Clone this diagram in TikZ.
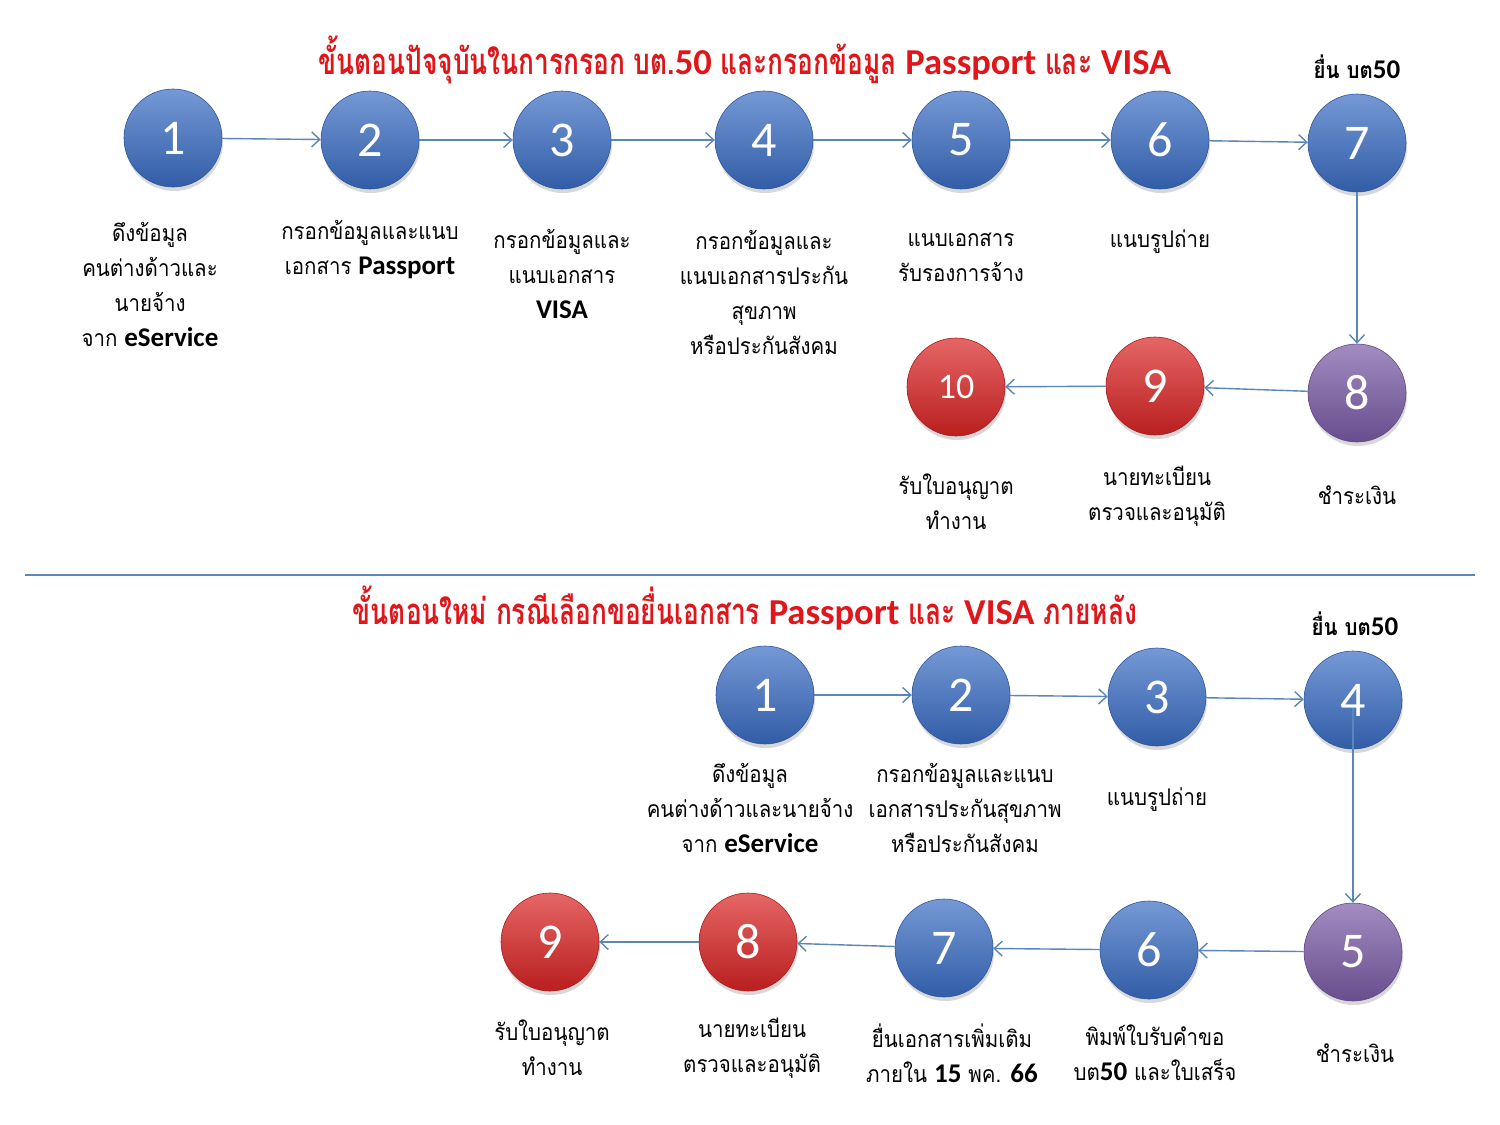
\documentclass[tikz,border=0pt]{standalone}
\usepackage{fontspec}
\setmainfont[Script=Thai]{Loma}
\newfontfamily\labelfont[Script=Thai, FakeStretch=0.89]{Loma}
\newfontfamily\titlefont[Script=Thai, FakeStretch=0.72]{Loma}
\newfontfamily\latinfont{Carlito}
\usetikzlibrary{arrows.meta}
\usetikzlibrary{shadows}

\definecolor{ballblue}{HTML}{3A6DC4}
\definecolor{ballred}{HTML}{DA2424}
\definecolor{ballpurple}{HTML}{7A5BA6}
\definecolor{flowline}{HTML}{5B86B8}
\definecolor{titlered}{HTML}{E0161B}

\newcommand\lat[1]{{\latinfont\bfseries\fontsize{27}{35}\selectfont #1}}
\newcommand\tlat[1]{{\latinfont\bfseries #1}}

\begin{document}
\begin{tikzpicture}[x=1pt, y=-1pt,
 ball/.style={circle, minimum size=98pt, inner sep=0pt, text=white,
   font=\latinfont\fontsize{50}{50}\selectfont,
   top color=#1!70!white, bottom color=#1!85!black, draw=#1!80!black, line width=.6pt,
   drop shadow={opacity=.3, shadow xshift=1pt, shadow yshift=-4pt}},
 flow/.style={flowline, line width=1.4pt, -{Straight Barb[length=8pt, width=15pt, line width=1.4pt]}},
 lbl/.style={align=center, inner sep=0pt, font=\labelfont\fontsize{23}{35}\selectfont},
 ttl/.style={text=titlered, inner sep=0pt, font=\titlefont\bfseries\fontsize{36.5}{40}\selectfont}]
\useasboundingbox[fill=white] (0,0) rectangle (1500,1125);

% current procedure
\node[ttl] (title1) at (745,60) {ขั้นตอนปัจจุบันในการกรอก บต.\tlat{50} และกรอกข้อมูล \tlat{Passport} และ \tlat{VISA}};
\foreach \n/\x/\y in {1/173/138, 2/370/140, 3/562/140, 4/764/140, 5/961/140, 6/1160/140, 7/1357/143}
 \node[ball=ballblue] (t\n) at (\x,\y) {\n};
\node[ball=ballpurple] (t8) at (1357,393) {8};
\node[ball=ballred] (t9) at (1155,386) {9};
\node[ball=ballred, font=\latinfont\fontsize{36}{36}\selectfont] (t10) at (956,387) {10};
\foreach \a/\b in {t1/t2, t2/t3, t3/t4, t4/t5, t5/t6, t6/t7, t7/t8, t8/t9, t9/t10}
 \draw[flow] (\a) -- (\b);

\node[lbl] (t1l) at (150,284) {ดึงข้อมูล\\คนต่างด้าวและ\\นายจ้าง\\จาก \lat{eService}};
\node[lbl] (t2l) at (370,250) {กรอกข้อมูลและแนบ\\เอกสาร \lat{Passport}};
\node[lbl] (t3l) at (562,274) {กรอกข้อมูลและ\\แนบเอกสาร\\\lat{VISA}};
\node[lbl] (t4l) at (764,292) {กรอกข้อมูลและ\\แนบเอกสารประกัน\\สุขภาพ\\หรือประกันสังคม};
\node[lbl] (t5l) at (961,257) {แนบเอกสาร\\รับรองการจ้าง};
\node[lbl] (t6l) at (1160,242) {แนบรูปถ่าย};
\node[lbl, font=\labelfont\bfseries\fontsize{23}{35}\selectfont] (t7l) at (1357,67) {ยื่น บต\lat{50}};
\node[lbl] (t8l) at (1357,495) {ชำระเงิน};
\node[lbl] (t9l) at (1157,496) {นายทะเบียน\\ตรวจและอนุมัติ};
\node[lbl] (t10l) at (956,502) {รับใบอนุญาต\\ทำงาน};

\draw[flowline, line width=1.2pt] (25,575) -- (1475,575);

% new procedure
\node[ttl] (title2) at (745,608) {ขั้นตอนใหม่ กรณีเลือกขอยื่นเอกสาร \tlat{Passport} และ \tlat{VISA} ภายหลัง};
\foreach \n/\x/\y in {1/765/695, 2/961/695, 3/1157/697, 4/1353/700, 6/1149/950, 7/944/948}
 \node[ball=ballblue] (b\n) at (\x,\y) {\n};
\node[ball=ballpurple] (b5) at (1353,952) {5};
\node[ball=ballred] (b8) at (748,942) {8};
\node[ball=ballred] (b9) at (550,942) {9};
\foreach \a/\b in {b1/b2, b2/b3, b3/b4, b5/b6, b6/b7, b7/b8, b8/b9}
 \draw[flow] (\a) -- (\b);
\draw[flow] ([yshift=-8pt]b4.center) -- (b5);

\node[lbl] (b1l) at (750,808) {ดึงข้อมูล\\คนต่างด้าวและนายจ้าง\\จาก \lat{eService}};
\node[lbl] (b2l) at (965,808) {กรอกข้อมูลและแนบ\\เอกสารประกันสุขภาพ\\หรือประกันสังคม};
\node[lbl] (b3l) at (1157,800) {แนบรูปถ่าย};
\node[lbl, font=\labelfont\bfseries\fontsize{23}{35}\selectfont] (b4l) at (1355,624) {ยื่น บต\lat{50}};
\node[lbl] (b5l) at (1355,1053) {ชำระเงิน};
\node[lbl] (b6l) at (1155,1053) {พิมพ์ใบรับคำขอ\\บต\lat{50} และใบเสร็จ};
\node[lbl] (b7l) at (952,1053) {ยื่นเอกสารเพิ่มเติม\\ภายใน \lat{15} พค. \lat{66}};
\node[lbl] (b8l) at (752,1048) {นายทะเบียน\\ตรวจและอนุมัติ};
\node[lbl] (b9l) at (552,1048) {รับใบอนุญาต\\ทำงาน};
\end{tikzpicture}
\end{document}
